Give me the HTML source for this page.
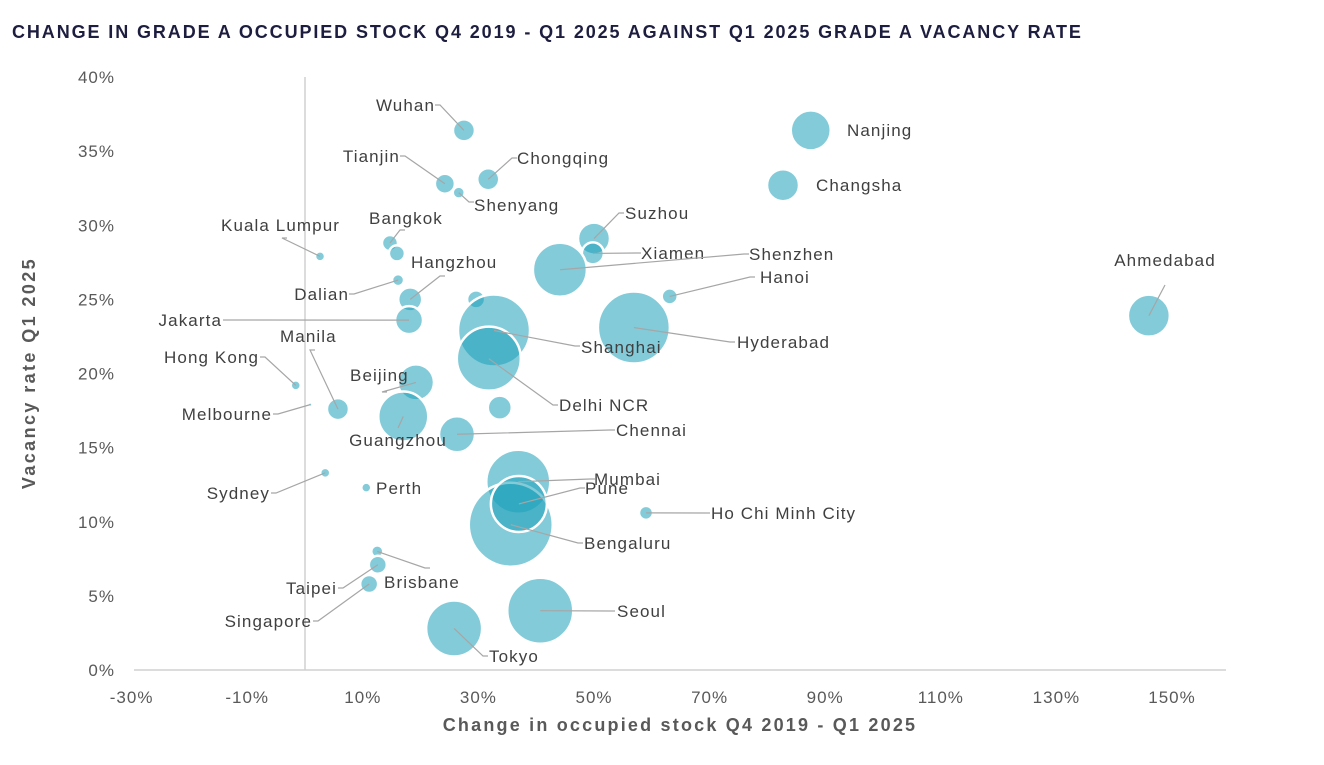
<!DOCTYPE html>
<html><head><meta charset="utf-8"><style>
body{margin:0;background:#fff;width:1324px;height:760px;overflow:hidden;font-family:"Liberation Sans",sans-serif}
svg text{font-family:"Liberation Sans",sans-serif}
</style></head><body>
<svg id="chart" width="1324" height="760" xmlns="http://www.w3.org/2000/svg">
<text x="12" y="38" font-size="18" font-weight="bold" fill="#1d1d3f" letter-spacing="1.9">CHANGE IN GRADE A OCCUPIED STOCK Q4 2019 - Q1 2025 AGAINST Q1 2025 GRADE A VACANCY RATE</text>
<g id="axes"></g><g id="bubbles"></g><g id="labels"></g>
<text x="680" y="731" text-anchor="middle" font-size="18" font-weight="bold" fill="#595959" letter-spacing="2.2">Change in occupied stock Q4 2019 - Q1 2025</text>
<text transform="translate(35,373) rotate(-90)" text-anchor="middle" font-size="18" font-weight="bold" fill="#595959" letter-spacing="2.4">Vacancy rate Q1 2025</text>
</svg>
<script>
const cities=["Wuhan","Nanjing","Changsha","Chongqing","Tianjin","Shenyang","Suzhou","Xiamen","Bangkok","Bangkok-2","Kuala Lumpur","Shenzhen","Dalian","Hangzhou","Hanoi","Unnamed-1","Jakarta","Ahmedabad","Shanghai","Hyderabad","Delhi NCR","Hong Kong","Beijing","Manila","Unnamed-2","Guangzhou","Chennai","Sydney","Perth","Mumbai","Bengaluru","Pune","Ho Chi Minh City","Brisbane","Taipei","Singapore","Seoul","Tokyo","Melbourne"];
const growth=[27.5,87.5,82.7,31.7,24.2,26.6,50.0,49.8,14.7,15.9,2.6,44.1,16.1,18.2,63.1,29.6,18.0,146.0,32.7,56.9,31.8,-1.6,19.2,5.7,33.7,17.0,26.3,3.5,10.6,36.9,35.6,37.0,59.0,12.5,12.6,11.1,40.7,25.8,0.9];
const vacancy=[36.4,36.4,32.7,33.1,32.8,32.2,29.1,28.1,28.8,28.1,27.9,27.0,26.3,25.0,25.2,25.0,23.6,23.9,22.9,23.1,21.0,19.2,19.4,17.6,17.7,17.1,15.9,13.3,12.3,12.7,9.8,11.2,10.6,8.0,7.1,5.8,4.0,2.8,17.9];
const stock=[121,400,256,121,100,36,256,121,64,64,25,729,36,144,64,81,196,441,1296,1296,1024,25,324,121,144,625,324,25,25,1024,1764,784,49,36,81,81,1089,784,1];
const xTicks=[-30,-10,10,30,50,70,90,110,130,150];
const yTicks=[0,5,10,15,20,25,30,35,40];
// label layout: [textX,textY,anchor,leaderX,leaderY]
const lab={"Wuhan":[435,105,"end",440,105],"Nanjing":[847,130,"start"],"Changsha":[816,185,"start"],"Chongqing":[517,158,"start",512,158],"Tianjin":[400,156,"end",405,156],"Shenyang":[474,205,"start",469,202],"Suzhou":[625,213,"start",619,213],"Xiamen":[641,253,"start",636,253],"Bangkok":[369,218,"start",400,230],"Kuala Lumpur":[221,225,"start",282,238],"Shenzhen":[749,254,"start",744,254],"Hangzhou":[411,262,"start",440,276],"Dalian":[349,294,"end",354,294],"Hanoi":[760,277,"start",750,277],"Ahmedabad":[1165,260,"middle",1165,285],"Jakarta":[222,320,"end",228,320],"Shanghai":[581,347,"start",575,346],"Hyderabad":[737,342,"start",730,342],"Manila":[280,336,"start",310,350],"Hong Kong":[259,357,"end",265,357],"Beijing":[350,375,"start",382,392],"Delhi NCR":[559,405,"start",553,405],"Melbourne":[272,414,"end",278,414],"Guangzhou":[398,440,"middle",398,428],"Chennai":[616,430,"start",610,430],"Mumbai":[594,479,"start",590,479],"Pune":[585,488,"start",580,488],"Sydney":[270,493,"end",276,493],"Perth":[376,488,"start"],"Ho Chi Minh City":[711,513,"start",705,513],"Bengaluru":[584,543,"start",578,543],"Brisbane":[384,582,"start",425,568],"Taipei":[337,588,"end",343,588],"Singapore":[312,621,"end",318,621],"Seoul":[617,611,"start",610,611],"Tokyo":[489,656,"start",483,656]};
const X=v=>305+v*5.78, Y=v=>670-v*14.825, R=s=>Math.sqrt(s);
const NS="http://www.w3.org/2000/svg";
function mk(t,a,p){const e=document.createElementNS(NS,t);for(const k in a)e.setAttribute(k,a[k]);p.appendChild(e);return e;}
const ax=document.getElementById('axes');
let l=mk('line',{x1:134,x2:1226,y1:Y(0),y2:Y(0),stroke:'#d0d0d0','stroke-width':1.5},ax);


l=mk('line',{x1:X(0),x2:X(0),y1:77,y2:Y(0),stroke:'#d0d0d0','stroke-width':1.5},ax);


xTicks.forEach(v=>{const t=mk('text',{x:X(v),y:703,'text-anchor':'middle','font-size':17,fill:'#595959','letter-spacing':1},ax);t.textContent=v+'%';

});
yTicks.forEach(v=>{const t=mk('text',{x:115,y:Y(v)+6,'text-anchor':'end','font-size':17,fill:'#595959','letter-spacing':1},ax);t.textContent=v+'%';

});
const bg=document.getElementById('bubbles'),lg=document.getElementById('labels');
cities.forEach((c,i)=>{const cx=X(growth[i]),cy=Y(vacancy[i]);
const b=mk('circle',{cx:cx,cy:cy,r:R(stock[i]),fill:'rgb(30,160,185)','fill-opacity':0.55,stroke:'#fff','stroke-width':R(stock[i])>3?2.5:0},bg);


const L=lab[c];if(!L)return;
if(L.length>3){const ln=mk('polyline',{points:`${cx},${cy} ${L[3]},${L[4]} ${L[2]=='end'?L[3]-5:L[2]=='start'?L[3]+5:L[3]},${L[4]}`,fill:'none',stroke:'#a6a6a6','stroke-width':1.2},lg);

}
const t=mk('text',{x:L[0],y:L[1]+6,'text-anchor':L[2],'font-size':17,fill:'#404040','letter-spacing':1.1},lg);t.textContent=c;

});
</script>
</body></html>
